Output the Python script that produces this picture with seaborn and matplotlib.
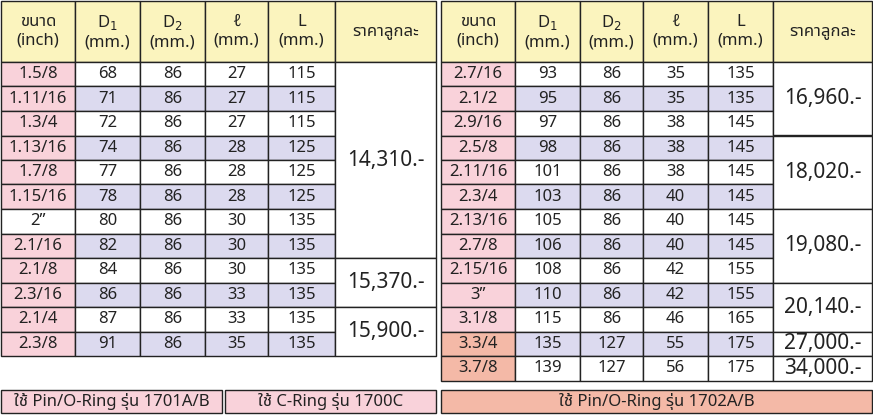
import matplotlib
matplotlib.use("Agg")
import matplotlib.pyplot as plt
from matplotlib.patches import Rectangle
import seaborn as sns

sns.set_theme(style="white")
plt.rcParams['font.family'] = ['Noto Sans Thai', 'Noto Sans', 'DejaVu Sans']

left_size = ["1.5/8", "1.11/16", "1.3/4", "1.13/16", "1.7/8", "1.15/16", "2\u201d", "2.1/16",
             "2.1/8", "2.3/16", "2.1/4", "2.3/8"]
left_d1 = [68, 71, 72, 74, 77, 78, 80, 82, 84, 86, 87, 91]
left_d2 = [86] * 12
left_l = [27, 27, 27, 28, 28, 28, 30, 30, 30, 33, 33, 35]
left_L = [115, 115, 115, 125, 125, 125, 135, 135, 135, 135, 135, 135]
left_prices = [("14,310.-", 0, 8), ("15,370.-", 8, 2), ("15,900.-", 10, 2)]

right_size = ["2.7/16", "2.1/2", "2.9/16", "2.5/8", "2.11/16", "2.3/4", "2.13/16", "2.7/8",
              "2.15/16", "3\u201d", "3.1/8", "3.3/4", "3.7/8"]
right_d1 = [93, 95, 97, 98, 101, 103, 105, 106, 108, 110, 115, 135, 139]
right_d2 = [86] * 11 + [127, 127]
right_l = [35, 35, 38, 38, 38, 40, 40, 40, 42, 42, 46, 55, 56]
right_L = [135, 135, 145, 145, 145, 145, 145, 145, 155, 155, 165, 175, 175]
right_prices = [("16,960.-", 0, 3), ("18,020.-", 3, 3), ("19,080.-", 6, 3),
                ("20,140.-", 9, 2), ("27,000.-", 11, 1), ("34,000.-", 12, 1)]

headers = ["ขนาด\n(inch)", "D$_1$\n(mm.)", "D$_2$\n(mm.)", "\u2113\n(mm.)", "L\n(mm.)", "ราคาลูกละ"]
footer_left = ["ใช้ Pin/O-Ring รุ่น 1701A/B", "ใช้ C-Ring รุ่น 1700C"]
footer_right = "ใช้ Pin/O-Ring รุ่น 1702A/B"

YEL = "#FBF4BE"; PINK = "#F9D2DA"; LAV = "#DCDAEF"; SALMON = "#F4B9A7"; EC = "#222222"

fig = plt.figure(figsize=(8.73, 4.15), dpi=100)
ax = fig.add_axes([0, 0, 1, 1])
ax.set_xlim(0, 873); ax.set_ylim(415, 0); ax.axis("off")

H0, RH = 62, 24.5
FS = 12

def cell(x0, y0, w, h, txt, fc, fs=FS, lw=1.0):
    ax.add_patch(Rectangle((x0, y0), w, h, facecolor=fc, edgecolor=EC, lw=lw))
    if txt != "":
        ax.text(x0 + w / 2, y0 + h / 2, txt, ha="center", va="center", fontsize=fs, color="#222222")

def table(xs, sizes, d1, d2, ll, LL, prices, salmon_rows, white_size):
    for i, hd in enumerate(headers):
        cell(xs[i], 1, xs[i + 1] - xs[i], H0 - 1, hd, YEL, fs=12)
    for r in range(len(sizes)):
        y = H0 + r * RH
        shade = LAV if r % 2 == 1 else "white"
        sfc = SALMON if r in salmon_rows else ("white" if r in white_size else PINK)
        cell(xs[0], y, xs[1] - xs[0], RH, sizes[r], sfc)
        for c, v in enumerate([d1[r], d2[r], ll[r], LL[r]]):
            cell(xs[c + 1], y, xs[c + 2] - xs[c + 1], RH, str(v), shade)
    for txt, start, n in prices:
        cell(xs[5], H0 + start * RH, xs[6] - xs[5], n * RH, txt, "white", fs=15)

table([1, 75, 140, 205, 268, 335, 436], left_size, left_d1, left_d2, left_l, left_L,
      left_prices, [], [6])
table([441, 515, 580, 643, 708, 773, 872], right_size, right_d1, right_d2, right_l, right_L,
      right_prices, [11, 12], [])

fy, fh = 390, 23
cell(1, fy, 221, fh, footer_left[0], PINK)
cell(225, fy, 211, fh, footer_left[1], PINK)
cell(441, fy, 431, fh, footer_right, SALMON)

fig.savefig("out.png", dpi=100)
